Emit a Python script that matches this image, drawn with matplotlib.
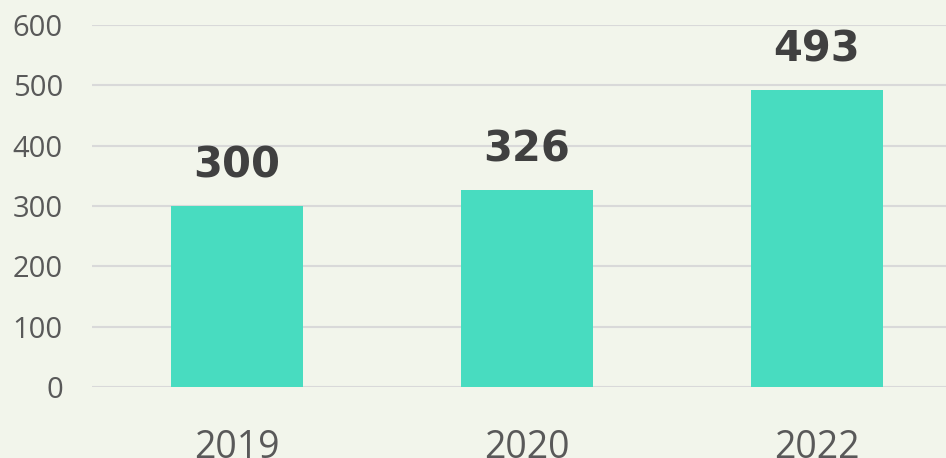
import numpy as np
import matplotlib.pyplot as plt

# 데이터
years = ["2019", "2020", "2022"]
values = [300, 326, 493]

bg = "#F2F5EB"
bar_color = "#48DCC0"

fig = plt.figure(figsize=(9.46, 4.58), dpi=100, facecolor=bg)
ax = fig.add_axes([0.0973, 0.155, 0.9027, 0.790], facecolor=bg)

x = np.arange(len(years))
bars = ax.bar(x, values, width=0.455, color=bar_color, zorder=3)

ax.set_xlim(-0.5, 2.445)
ax.set_ylim(0, 600)
ax.set_yticks(np.arange(0, 601, 100))
ax.yaxis.grid(True, color="#D9D9D9", linewidth=1.5, zorder=0)
for s in ax.spines.values():
    s.set_visible(False)

ax.set_xticks(x)
ax.set_xticklabels(years, family="Open Sans", fontsize=27, color="#595959")
ax.tick_params(axis="x", length=0, pad=30)
ax.tick_params(axis="y", length=0, pad=21, labelsize=21, labelcolor="#595959")
for lab in ax.get_yticklabels():
    lab.set_family("Open Sans")

# 값 라벨
for xi, v in zip(x, values):
    ax.annotate(str(v), (xi, v), xytext=(0, 14), textcoords="offset points",
                ha="center", va="bottom", fontsize=30, fontweight="bold",
                color="#404040", family="DejaVu Sans")

fig.savefig("out.png", dpi=100, facecolor=bg)
